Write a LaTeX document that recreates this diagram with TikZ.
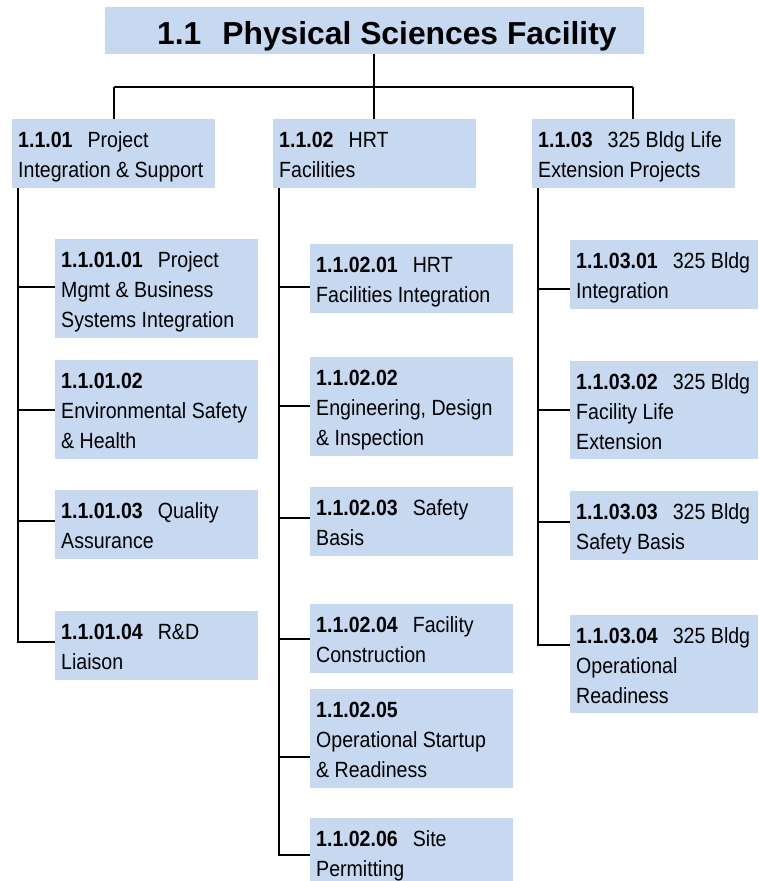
\documentclass[tikz,border=0pt]{standalone}
\usepackage{fontspec}
\setmainfont{Liberation Sans}[FakeStretch=0.89]
\newfontfamily\titlefont{Liberation Sans}
\definecolor{boxblue}{RGB}{198,217,240}
\tikzset{
  boxnode/.style={fill=boxblue, draw=none, inner sep=0pt, anchor=north west},
  txt/.style={anchor=north west, inner sep=0pt, align=left, text=black,
    font=\fontsize{22}{30}\selectfont},
  conn/.style={draw=black, line width=1.8pt}
}
\newcommand\wbsitem[6]{%
  \node[boxnode, minimum width={#4-#2}, minimum height={#5-#3}] (#1) at (#2,#3) {};
  \node[txt] (#1t) at ([xshift=6pt,yshift=-7pt]#1.north west) {\rule{0pt}{21pt}#6};
}
\newcommand\wnum[1]{\textbf{#1}\hspace{15pt}}
\begin{document}
\begin{tikzpicture}[x=1pt,y=-1pt]
\fill[white] (0,0) rectangle (758,881);
\useasboundingbox (0,0) rectangle (758,881);

% title
\node[boxnode, minimum width=539, minimum height=47] (T) at (105,7) {};
\node[anchor=base west, inner sep=0pt, font=\titlefont\bfseries\fontsize{31.8}{36}\selectfont] (Tt) at (157,44) {1.1\hspace{21pt}Physical Sciences Facility};

% level 2
\wbsitem{A}{12}{119}{215}{188}{\wnum{1.1.01}Project\\Integration \& Support}
\wbsitem{B}{273}{119}{476}{188}{\wnum{1.1.02}HRT\\Facilities}
\wbsitem{C}{532}{119}{735}{188}{\wnum{1.1.03}325 Bldg Life\\Extension Projects}

% level 3 left
\wbsitem{A1}{55}{239}{258}{338}{\wnum{1.1.01.01}Project\\Mgmt \& Business\\Systems Integration}
\wbsitem{A2}{55}{360}{258}{459}{\textbf{1.1.01.02}\\Environmental Safety\\\& Health}
\wbsitem{A3}{55}{490}{258}{559}{\wnum{1.1.01.03}Quality\\Assurance}
\wbsitem{A4}{55}{611}{258}{680}{\wnum{1.1.01.04}R\&D\\Liaison}

% level 3 middle
\wbsitem{B1}{310}{244}{513}{313}{\wnum{1.1.02.01}HRT\\Facilities Integration}
\wbsitem{B2}{310}{357}{513}{456}{\textbf{1.1.02.02}\\Engineering, Design\\\& Inspection}
\wbsitem{B3}{310}{487}{513}{556}{\wnum{1.1.02.03}Safety\\Basis}
\wbsitem{B4}{310}{604}{513}{673}{\wnum{1.1.02.04}Facility\\Construction}
\wbsitem{B5}{310}{689}{513}{788}{\textbf{1.1.02.05}\\Operational Startup\\\& Readiness}
\wbsitem{B6}{310}{818}{513}{881}{\wnum{1.1.02.06}Site\\Permitting}

% level 3 right
\wbsitem{C1}{570}{240}{758}{309}{\wnum{1.1.03.01}325 Bldg\\Integration}
\wbsitem{C2}{570}{361}{758}{459}{\wnum{1.1.03.02}325 Bldg\\Facility Life\\Extension}
\wbsitem{C3}{570}{491}{758}{560}{\wnum{1.1.03.03}325 Bldg\\Safety Basis}
\wbsitem{C4}{570}{615}{758}{713}{\wnum{1.1.03.04}325 Bldg\\Operational\\Readiness}

% top connectors
\coordinate (hub) at (374,87);
\coordinate (dA) at (114,87);
\coordinate (dC) at (633,87);
\draw[conn] (T.south -| hub) -- (hub);
\draw[conn] (dA) -- (dC);
\draw[conn] (dA) -- (dA |- A.north);
\draw[conn] (hub) -- (hub |- B.north);
\draw[conn] (dC) -- (dC |- C.north);

% left trunk
\coordinate (a1) at (18,287);
\coordinate (a2) at (18,410);
\coordinate (a3) at (18,521);
\coordinate (a4) at (18,642);
\draw[conn] (a4 |- A.south) -- (a4) -- (a4 -| A4.west);
\draw[conn] (a1) -- (a1 -| A1.west);
\draw[conn] (a2) -- (a2 -| A2.west);
\draw[conn] (a3) -- (a3 -| A3.west);

% middle trunk
\coordinate (b1) at (279,287);
\coordinate (b2) at (279,406);
\coordinate (b3) at (279,518);
\coordinate (b4) at (279,639);
\coordinate (b5) at (279,757);
\coordinate (b6) at (279,855);
\draw[conn] (b6 |- B.south) -- (b6) -- (b6 -| B6.west);
\draw[conn] (b1) -- (b1 -| B1.west);
\draw[conn] (b2) -- (b2 -| B2.west);
\draw[conn] (b3) -- (b3 -| B3.west);
\draw[conn] (b4) -- (b4 -| B4.west);
\draw[conn] (b5) -- (b5 -| B5.west);

% right trunk
\coordinate (c1) at (538,289);
\coordinate (c2) at (538,410);
\coordinate (c3) at (538,522);
\coordinate (c4) at (538,645);
\draw[conn] (c4 |- C.south) -- (c4) -- (c4 -| C4.west);
\draw[conn] (c1) -- (c1 -| C1.west);
\draw[conn] (c2) -- (c2 -| C2.west);
\draw[conn] (c3) -- (c3 -| C3.west);
\end{tikzpicture}
\end{document}
